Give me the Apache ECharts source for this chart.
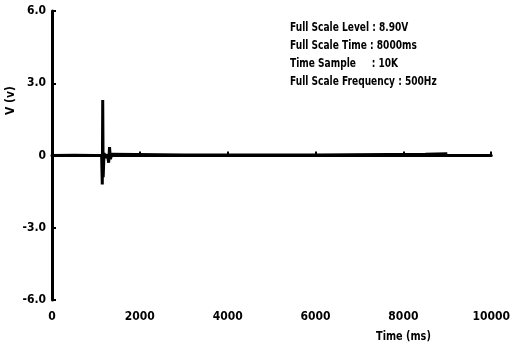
<!DOCTYPE html>
<html>
<head>
<meta charset="utf-8">
<script src="https://cdn.jsdelivr.net/npm/echarts@6/dist/echarts.min.js"></script>
<style>
  html, body { margin: 0; padding: 0; background: #fff; }
  #chart { width: 513px; height: 349px; }
</style>
</head>
<body>
<div id="chart"></div>
<script>
// voltage trace (time in ms, volts)
const timeMs = [0, 500, 1000, 1130, 1145, 1155, 1165, 1185, 1220, 1260, 1290, 1310, 1330, 1360, 1400, 3000, 6000, 8500, 9000];
const volts  = [0, 0.01, 0, 0, -1.2, 2.3, -0.9, 0.1, -0.1, 0.05, -0.3, 0.35, -0.15, 0.05, 0, 0.02, 0.02, 0.05, 0.07];

const yTicks = ['-6.0', '-3.0', '0', '3.0', '6.0'];
const xTicks = ['0', '2000', '4000', '6000', '8000', '10000'];

const infoLines = [
  'Full Scale Level : 8.90V',
  'Full Scale Time : 8000ms',
  'Time Sample     : 10K',
  'Full Scale Frequency : 500Hz'
];

const font = '"Liberation Sans Narrow", "DejaVu Sans Condensed", sans-serif';
const chart = echarts.init(document.getElementById('chart'));

chart.setOption({
  animation: false,
  grid: { left: 52, right: 16, top: 11, bottom: 49 },
  xAxis: {
    type: 'value',
    min: 0, max: 10000, interval: 2000,
    axisLine: { lineStyle: { color: '#000', width: 3 } },
    axisTick: { inside: true, length: 4, lineStyle: { color: '#000', width: 2 } },
    axisLabel: {
      color: '#000', fontFamily: font, fontWeight: 'bold', fontSize: 12, margin: 11,
      formatter: (v) => xTicks[Math.round(v / 2000)]
    },
    splitLine: { show: false }
  },
  yAxis: {
    type: 'value',
    min: -6, max: 6, interval: 3,
    axisLine: { show: true, lineStyle: { color: '#000', width: 3 } },
    axisTick: { show: true, inside: true, length: 4, lineStyle: { color: '#000', width: 2 } },
    axisLabel: {
      color: '#000', fontFamily: font, fontWeight: 'bold', fontSize: 12, margin: 6,
      formatter: (v) => yTicks[Math.round((v + 6) / 3)]
    },
    splitLine: { show: false }
  },
  series: [{
    type: 'line',
    data: timeMs.map((t, i) => [t, volts[i]]),
    showSymbol: false,
    lineStyle: { color: '#000', width: 3 }
  }],
  graphic: [
    {
      type: 'text', left: 290, top: 19, scaleX: 0.84,
      style: {
        text: infoLines.join('\n'),
        font: 'bold 12px ' + font,
        lineHeight: 18,
        fill: '#000'
      }
    },
    {
      type: 'text', left: 5, top: 86, rotation: Math.PI / 2,
      style: { text: 'V (v)', font: 'bold 12px ' + font, fill: '#000' }
    },
    {
      type: 'text', left: 376, top: 331, scaleX: 0.9,
      style: { text: 'Time (ms)', font: 'bold 12px ' + font, fill: '#000' }
    }
  ]
});
</script>
</body>
</html>
